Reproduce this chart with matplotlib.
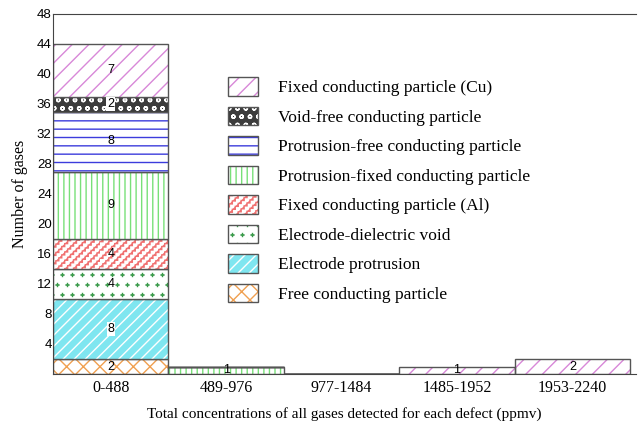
import warnings
import numpy as np
import matplotlib
matplotlib.use('Agg')
import matplotlib.pyplot as plt
import matplotlib.hatch as mhatch
from matplotlib.path import Path
from matplotlib.patches import Patch

warnings.filterwarnings('ignore')

categories = ['0-488', '489-976', '977-1484', '1485-1952', '1953-2240']

# stacked from the bottom up
defects = ['Free conducting particle',
           'Electrode protrusion',
           'Electrode-dielectric void',
           'Fixed conducting particle (Al)',
           'Protrusion-fixed conducting particle',
           'Protrusion-free conducting particle',
           'Void-free conducting particle',
           'Fixed conducting particle (Cu)']
free_particle = [2, 0, 0, 0, 0]
electrode_protrusion = [8, 0, 0, 0, 0]
dielectric_void = [4, 0, 0, 0, 0]
fixed_al = [4, 0, 0, 0, 0]
protrusion_fixed = [9, 1, 0, 0, 0]
protrusion_free = [8, 0, 0, 0, 0]
void_free = [2, 0, 0, 0, 0]
fixed_cu = [7, 0, 0, 1, 2]
counts = [free_particle, electrode_protrusion, dielectric_void, fixed_al,
          protrusion_fixed, protrusion_free, void_free, fixed_cu]

yticks = [4, 8, 12, 16, 20, 24, 28, 32, 36, 40, 44, 48]


class StairHatch(mhatch.HatchPatternBase):
    """diagonal staircase lines, hatch character 'z'"""
    steps = 34

    def __init__(self, hatch, density):
        self.n = int(hatch.count('z') * density)
        self.num_vertices = 2 * self.n * (2 * self.steps + 1)

    def set_vertices_and_codes(self, vertices, codes):
        per_line = 2 * self.steps + 1
        w = 1.0 / self.steps
        for j, k in enumerate(range(-self.n, self.n)):
            c = k / self.n
            pts = [(0.0, c)]
            for s in range(self.steps):
                pts.append(((s + 1) * w, c + s * w))
                pts.append(((s + 1) * w, c + (s + 1) * w))
            vertices[j * per_line:(j + 1) * per_line] = pts
            codes[j * per_line] = Path.MOVETO
            codes[j * per_line + 1:(j + 1) * per_line] = Path.LINETO


class PlusHatch(mhatch.HatchPatternBase):
    """small plus marks on a staggered grid, hatch character 'p'"""
    arm = 0.015

    def __init__(self, hatch, density):
        self.n = int(hatch.count('p') * density * 0.85)
        self.num_vertices = self.n * self.n * 4

    def set_vertices_and_codes(self, vertices, codes):
        a = self.arm
        pts = []
        for r in range(self.n):
            y = (r + 0.5) / self.n
            shift = 0.5 / self.n if r % 2 else 0.0
            for col in range(self.n):
                x = (col + 0.25) / self.n + shift
                pts += [(x - a, y), (x + a, y), (x, y - a), (x, y + a)]
        vertices[:] = pts
        codes[0::2] = Path.MOVETO
        codes[1::2] = Path.LINETO


mhatch._hatch_types.append(StairHatch)
mhatch._hatch_types.append(PlusHatch)

# face colour, hatch colour, hatch pattern
styles = [('white', '#f0a050', 'xx'),
          ('#7fe6f0', 'white', '///'),
          ('white', '#3a9a4a', 'pp'),
          ('white', '#f07070', 'zz'),
          ('white', '#78e078', '|||'),
          ('white', '#3c3cdc', '--'),
          ('#3c3c3c', 'white', 'oo'),
          ('white', '#d888d8', '//')]

plt.rcParams['hatch.linewidth'] = 1.0
serif = ['Liberation Serif', 'DejaVu Serif']
narrow = ['Liberation Sans Narrow', 'Liberation Sans', 'DejaVu Sans']

fig = plt.figure(figsize=(6.38, 4.28), dpi=100)
ax = fig.add_axes([53 / 638, 54 / 428, 583 / 638, 360 / 428])

x = np.arange(len(categories))
bottom = np.zeros(len(categories))
handles = []
for name, vals, (fc, hc, hatch) in zip(defects, counts, styles):
    vals = np.array(vals, dtype=float)
    ax.bar(x, vals, 1.0, bottom=bottom, color=fc, edgecolor=hc,
           hatch=hatch, linewidth=0)
    ax.bar(x, vals, 1.0, bottom=bottom, fill=False, edgecolor='#555555',
           linewidth=1)
    for xi, v, b in zip(x, vals, bottom):
        if v > 0:
            bbox = dict(facecolor='white', edgecolor='none', pad=0.5) if fc != 'white' else None
            ax.text(xi, b + v / 2, f'{int(v)}', ha='center', va='center',
                    fontsize=9, family=narrow, color='black', bbox=bbox)
    handles.append((Patch(facecolor=fc, edgecolor=hc, hatch=hatch, linewidth=0),
                    Patch(fill=False, edgecolor='#555555', linewidth=1)))
    bottom += vals

ax.set_xlim(-0.5, 4.55)
ax.set_ylim(0, 48)
ax.set_yticks(yticks)
ax.set_yticklabels([str(t) for t in yticks], family=narrow, fontsize=9.5)
ax.set_xticks(x)
ax.set_xticklabels(categories, family=serif, fontsize=11.5)
ax.tick_params(axis='y', length=0, pad=1)
ax.tick_params(axis='x', length=0, pad=4)
ax.spines['right'].set_visible(False)
for s in ['left', 'bottom', 'top']:
    ax.spines[s].set_color('#444444')

ax.set_ylabel('Number of gases', family=serif, fontsize=11.5, labelpad=6)
ax.set_xlabel('Total concentrations of all gases detected for each defect (ppmv)',
              family=serif, fontsize=11, labelpad=8)

fig.legend(handles[::-1], defects[::-1], loc='upper left',
           bbox_to_anchor=(228 / 638, 1 - 77 / 428), frameon=False,
           borderpad=0, borderaxespad=0, handlelength=1.73, handleheight=1.27,
           handletextpad=1.17, labelspacing=0.6,
           prop={'family': serif, 'size': 12.5})

fig.savefig('out.png', dpi=100)
